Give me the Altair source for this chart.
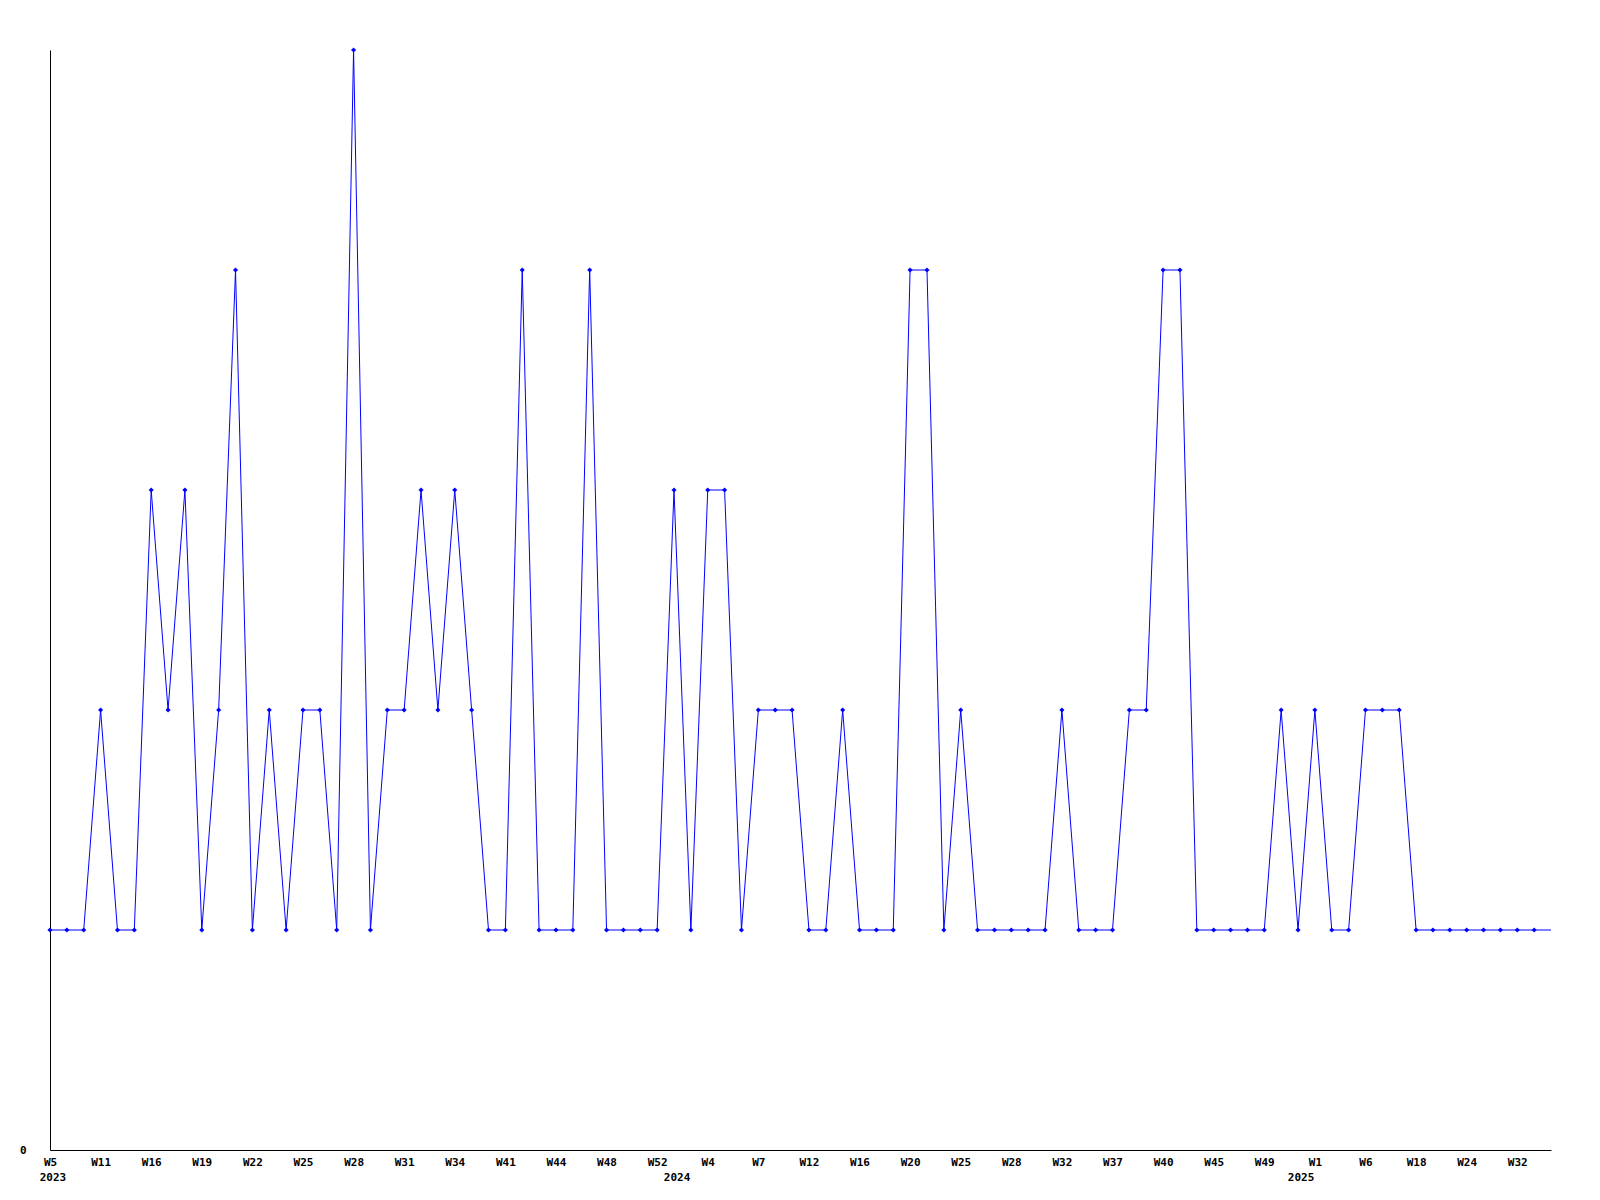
import altair as alt
import pandas as pd

# weekly values (one per data week, in order)
values = [1, 1, 1, 2, 1, 1, 3, 2, 3, 1,
          2, 4, 1, 2, 1, 2, 2, 1, 5, 1,
          2, 2, 3, 2, 3, 2, 1, 1, 4, 1,
          1, 1, 4, 1, 1, 1, 1, 3, 1, 3,
          3, 1, 2, 2, 2, 1, 1, 2, 1, 1,
          1, 4, 4, 1, 2, 1, 1, 1, 1, 1,
          2, 1, 1, 1, 2, 2, 4, 4, 1, 1,
          1, 1, 1, 2, 1, 2, 1, 1, 2, 2,
          2, 1, 1, 1, 1, 1, 1, 1, 1, 1]

# labels shown on every third week
tick_labels = ["W5", "W11", "W16", "W19", "W22", "W25", "W28", "W31", "W34", "W41",
               "W44", "W48", "W52", "W4", "W7", "W12", "W16", "W20", "W25", "W28",
               "W32", "W37", "W40", "W45", "W49", "W1", "W6", "W18", "W24", "W32"]

years = ["2023", "2024", "2025"]
year_start_index = [0, 37, 74]

n = len(values)
df = pd.DataFrame({"i": list(range(n)), "v": values})
df_years = pd.DataFrame({"i": year_start_index, "year": years})

label_array = "[" + ",".join("'" + t + "'" for t in tick_labels) + "]"

FONT = "DejaVu Sans Mono"

x_scale = alt.Scale(domain=[0, n - 1], nice=False, zero=False)
y_scale = alt.Scale(domain=[0, 5], nice=False)

x_axis = alt.Axis(
    values=list(range(0, n, 3)),
    labelExpr=label_array + "[round(datum.value / 3)]",
    ticks=False, grid=False, title=None,
    domainColor="black", domainWidth=1,
    labelFont=FONT, labelFontWeight="bold", labelFontSize=11, labelColor="black",
    labelPadding=6, labelOverlap=False, labelFlush=False,
)
y_axis = alt.Axis(
    values=[0], format="d", ticks=False, grid=False, title=None,
    domainColor="black", domainWidth=1,
    labelFont=FONT, labelFontWeight="bold", labelFontSize=11, labelColor="black",
    labelPadding=24,
)

base = alt.Chart(df)

line = base.mark_line(color="#0000ff", strokeWidth=1).encode(
    x=alt.X("i:Q", scale=x_scale, axis=x_axis),
    y=alt.Y("v:Q", scale=y_scale, axis=y_axis),
)

points = base.transform_filter(alt.datum.i < n - 1).mark_point(
    shape="diamond", filled=True, color="#0000ff", size=26, opacity=1
).encode(
    x=alt.X("i:Q", scale=x_scale),
    y=alt.Y("v:Q", scale=y_scale),
)

year_text = alt.Chart(df_years).mark_text(
    font=FONT, fontWeight="bold", fontSize=11, color="black",
    align="center", baseline="middle", dx=3
).encode(
    x=alt.X("i:Q", scale=x_scale),
    y=alt.value(1128),
    text="year:N",
)

chart = alt.layer(line, points, year_text).properties(
    width=1501, height=1100,
    autosize=alt.AutoSizeParams(type="none"),
    padding={"left": 42, "top": 42, "right": 20, "bottom": 40},
    view=alt.ViewBackground(stroke="transparent", strokeWidth=0),
).configure_view(strokeWidth=0, stroke="transparent").configure(background="white")

chart.save("out.html", embed_options={"renderer": "svg", "actions": False})
